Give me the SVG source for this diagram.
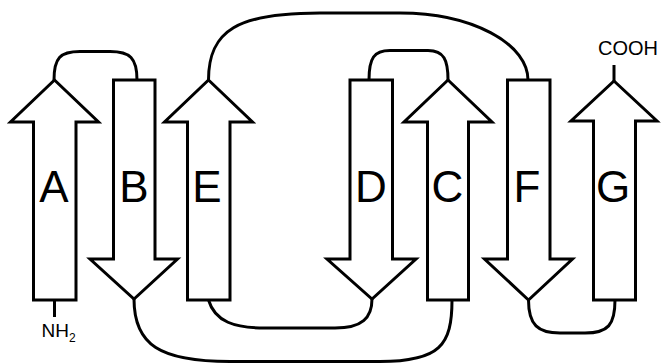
<svg xmlns="http://www.w3.org/2000/svg" width="665" height="364" viewBox="0 0 665 364">
<style>
.s{fill:#fff;stroke:#000;stroke-width:3;stroke-linejoin:miter;stroke-miterlimit:10}
.c{fill:none;stroke:#000;stroke-width:3}
.l{font-family:"Liberation Sans",Arial,sans-serif;font-size:44px;text-anchor:middle;fill:#000}
.t{font-family:"Liberation Sans",Arial,sans-serif;font-size:19px;fill:#000}
</style>
<rect width="665" height="364" fill="#fff"/>
<g id="connectors">
<path class="c" d="M54,80 C54,58 60,51.5 80,51.5 L110,51.5 C130,51.5 137,58 137,80"/>
<path class="c" d="M208.5,80 C208.5,30 238,13 320,13 L400,13 A128,67 0 0 1 528,80"/>
<path class="c" d="M369,80 C369,58 374,50.5 390,50.5 L428,50.5 C444,50.5 448,60 448,80"/>
<path class="c" d="M134,299 C134,345 160,361.5 230,361.5 L380,361.5 C440,361.5 452,345 452,300"/>
<path class="c" d="M208.5,300 C215,322 235,328 265,328 L335,328 C362,328 372,318 372,299"/>
<path class="c" d="M528.5,300 C528.5,325 538,333 560,333 L585,333 C608,333 615,325 615,300"/>
<path class="c" d="M54.5,300 L54.5,317"/>
<path class="c" d="M614,81 L614,65"/>
</g>
<g id="A">
<polygon class="s" points="54.5,80 98.5,122 76,122 76,300 33.5,300 33.5,122 10.5,122"/>
<text class="l" x="54" y="202">A</text>
</g>
<g id="B">
<polygon class="s" points="113.5,80 155,80 155,259 177.5,259 134,299 90,259 113.5,259"/>
<text class="l" x="134" y="202">B</text>
</g>
<g id="E">
<polygon class="s" points="208.5,80 252.5,122 230,122 230,300 187.5,300 187.5,122 164.5,122"/>
<text class="l" x="207" y="202">E</text>
</g>
<g id="D">
<polygon class="s" points="350,80 392.5,80 392.5,259 416,259 372,299 327,259 350,259"/>
<text class="l" x="371" y="202">D</text>
</g>
<g id="C">
<polygon class="s" points="448,80 492,122 468.5,122 468.5,300 427.5,300 427.5,122 404,122"/>
<text class="l" x="447.5" y="202">C</text>
</g>
<g id="F">
<polygon class="s" points="507.5,80 550,80 550,259 572.5,259 528.5,300 484.5,259 507.5,259"/>
<text class="l" x="527" y="202">F</text>
</g>
<g id="G">
<polygon class="s" points="614,81 657,121 635.5,121 635.5,300 593.5,300 593.5,121 571,121"/>
<text class="l" x="613" y="202">G</text>
</g>
<g id="N-terminus">
<text class="t" x="41.5" y="337">NH<tspan font-size="12" dy="5">2</tspan></text>
</g>
<g id="C-terminus">
<text class="t" x="598" y="55" font-size="20" style="font-size:20px">COOH</text>
</g>
</svg>
